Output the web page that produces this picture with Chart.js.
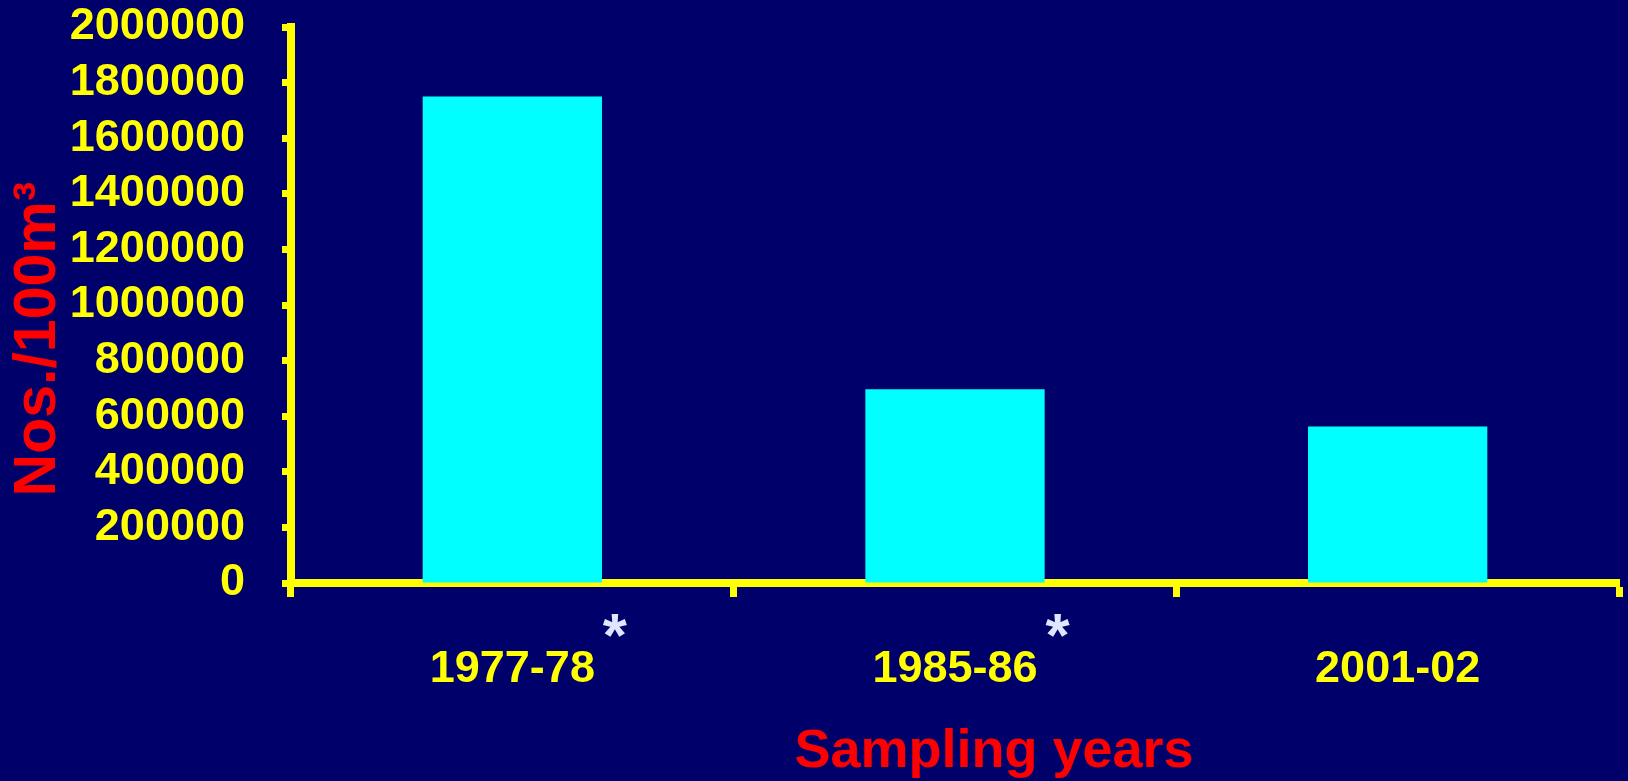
<!DOCTYPE html>
<html>
<head>
<meta charset="utf-8">
<script src="https://cdn.jsdelivr.net/npm/chart.js@4/dist/chart.umd.min.js"></script>
<style>
  html, body { margin: 0; padding: 0; background: #00006a; }
  #wrap { width: 1628px; height: 781px; position: relative; }
</style>
</head>
<body>
<div id="wrap"><canvas id="chart"></canvas></div>
<script>
// Zooplankton density per sampling period
const samplingYears = ['1977-78', '1985-86', '2001-02'];
const density = [1750000, 697000, 563000];
const starred = [true, true, false];   // periods marked with an asterisk
const yMin = 0;
const yMax = 2000000;
const yStep = 200000;
const xTitle = 'Sampling years';
const yTitle = 'Nos./100m³';

const YELLOW = '#ffff00';
const RED = '#ff0000';
const CYAN = '#00ffff';
const STAR = '#dfe6ff';
const FONT = '"Liberation Sans", Arial, Helvetica, sans-serif';

// Axis titles and asterisk markers drawn on top of the chart
const annotations = {
  id: 'annotations',
  afterDraw(chart) {
    const { ctx, chartArea, scales } = chart;
    const x = scales.x;
    ctx.save();

    ctx.fillStyle = RED;
    ctx.font = `bold 54px ${FONT}`;
    ctx.textAlign = 'center';
    ctx.textBaseline = 'alphabetic';
    ctx.fillText(xTitle, (chartArea.left + chartArea.right) / 2 + 39, chartArea.bottom + 184);

    ctx.save();
    ctx.translate(chartArea.left - 236, (chartArea.top + chartArea.bottom) / 2 + 34);
    ctx.rotate(-Math.PI / 2);
    ctx.font = `bold 59px ${FONT}`;
    ctx.fillText(yTitle, 0, 0);
    ctx.restore();

    const starFont = `bold 62px ${FONT}`;
    samplingYears.forEach((label, i) => {
      if (!starred[i]) return;
      ctx.font = `bold 45px ${FONT}`;
      const w = ctx.measureText(label).width;
      ctx.font = starFont;
      const m = ctx.measureText('*');
      const cx = x.getPixelForValue(i) + w / 2 + 20;
      const cy = chartArea.bottom + 42;
      const base = cy - (m.actualBoundingBoxDescent - m.actualBoundingBoxAscent) / 2;
      ctx.fillStyle = STAR;
      ctx.textAlign = 'center';
      ctx.fillText('*', cx, base);
    });
    ctx.restore();
  }
};

new Chart(document.getElementById('chart'), {
  type: 'bar',
  data: {
    labels: samplingYears,
    datasets: [{
      data: density,
      backgroundColor: CYAN,
      borderWidth: 0,
      barPercentage: 0.405,
      categoryPercentage: 1.0
    }]
  },
  options: {
    responsive: true,
    maintainAspectRatio: false,
    animation: false,
    layout: { padding: { left: 70, right: 9, top: 27, bottom: 88 } },
    plugins: {
      legend: { display: false },
      tooltip: { enabled: false },
      title: { display: false }
    },
    scales: {
      x: {
        z: 1,
        grid: {
          offset: true,
          drawOnChartArea: false,
          drawTicks: true,
          tickLength: 14,
          tickWidth: 7,
          tickColor: YELLOW
        },
        border: { display: true, color: YELLOW, width: 8 },
        ticks: {
          color: YELLOW,
          font: { family: FONT, size: 45, weight: 'bold' },
          padding: 46,
          maxRotation: 0,
          autoSkip: false
        },
        afterFit(scale) {
          scale.height = 110;
          scale.paddingLeft = 0;
          scale.paddingRight = 0;
        }
      },
      y: {
        z: 1,
        min: yMin,
        max: yMax,
        grid: {
          drawOnChartArea: false,
          drawTicks: true,
          tickLength: 9,
          tickWidth: 7,
          tickColor: YELLOW
        },
        border: { display: true, color: YELLOW, width: 8 },
        ticks: {
          stepSize: yStep,
          color: YELLOW,
          font: { family: FONT, size: 45, weight: 'bold' },
          padding: 37,
          autoSkip: false,
          callback: v => String(v)
        },
        afterFit(scale) {
          scale.width = 221;
          scale.paddingTop = 0;
          scale.paddingBottom = 0;
        }
      }
    }
  },
  plugins: [annotations]
});
</script>
</body>
</html>
